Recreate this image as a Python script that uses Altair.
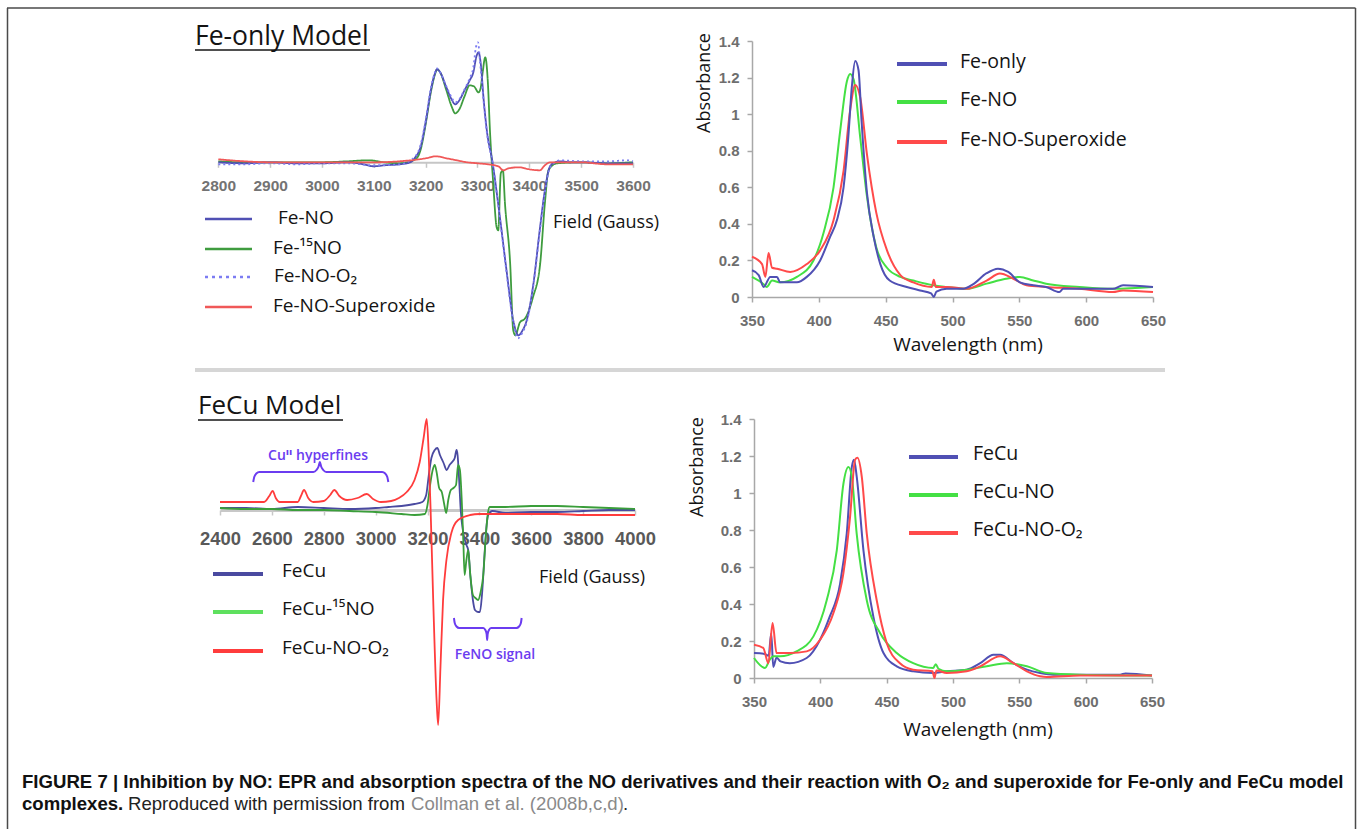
import altair as alt
import pandas as pd

W, H = 1357, 829
SANS = "'Open Sans', 'DejaVu Sans', sans-serif"
ARIAL = "'Liberation Sans', Arial, sans-serif"

# ---------------- EPR, Fe-only model (field in Gauss, arbitrary intensity) ----------------
epr1_feno_x = [2800, 2850, 2900, 2950, 3000, 3050, 3080, 3100, 3120, 3150, 3170, 3180, 3190, 3200, 3210, 3218, 3222, 3228, 3240, 3250, 3257, 3265, 3275, 3285, 3292, 3298, 3302, 3306, 3312, 3318, 3329, 3343, 3356, 3369, 3379, 3387, 3395, 3408, 3420, 3430, 3440, 3450, 3460, 3480, 3500, 3550, 3600]
epr1_feno_y = [0, -1, 0, -1, -1, 0, -2, -4, -3, -2, 0, 5, 15, 40, 72, 89, 93, 90, 75, 63, 58, 62, 72, 82, 90, 106, 110, 100, 62, 32, 0, -54, -108, -158, -173, -168, -158, -121, -68, -28, -4, 0, 1, 0, 0, -1, -1]
epr1_fe15_x = [2800, 2850, 2900, 3000, 3050, 3090, 3120, 3150, 3180, 3190, 3200, 3210, 3218, 3222, 3228, 3240, 3250, 3257, 3265, 3275, 3285, 3293, 3302, 3306, 3310, 3315, 3320, 3324, 3330, 3337, 3340, 3345, 3349, 3353, 3363, 3369, 3373, 3382, 3392, 3407, 3421, 3430, 3437, 3453, 3500, 3550, 3600]
epr1_fe15_y = [1, 0, 0, 0, 1, 2, 0, -1, 3, 12, 38, 70, 88, 93, 90, 72, 56, 49, 53, 66, 77, 76, 70, 74, 90, 105, 80, 32, -18, -65, -68, -11, -8, -41, -101, -168, -173, -160, -156, -135, -101, -41, -8, -1, 0, -1, 0]
epr1_o2_x = [2800, 2850, 2900, 2950, 3000, 3050, 3100, 3150, 3180, 3190, 3200, 3210, 3218, 3222, 3228, 3240, 3250, 3257, 3265, 3275, 3285, 3292, 3297, 3301, 3305, 3312, 3318, 3329, 3343, 3356, 3369, 3378, 3387, 3395, 3408, 3420, 3430, 3440, 3450, 3460, 3500, 3550, 3590, 3600]
epr1_o2_y = [-2, -2, -1, -2, -1, -1, -3, -2, 6, 17, 42, 74, 90, 94, 90, 76, 65, 60, 63, 73, 84, 95, 115, 120, 100, 60, 30, 0, -55, -110, -160, -176, -170, -160, -122, -70, -30, -5, 0, 2, 1, 1, 2, 1]
epr1_sup_x = [2800, 2850, 2900, 3000, 3100, 3150, 3200, 3220, 3240, 3260, 3280, 3300, 3320, 3340, 3350, 3360, 3380, 3400, 3420, 3430, 3440, 3500, 3550, 3600]
epr1_sup_y = [3, 1, 0, 0, 0, 1, 4, 6, 4, 2, 0, -1, -2, -4, -8, -6, -5, -7, -8, -3, 0, 0, -2, -2]
epr1_ticks = [2800, 2900, 3000, 3100, 3200, 3300, 3400, 3500, 3600]

# ---------------- EPR, FeCu model ----------------
epr2_fecu_x = [2400, 2500, 2600, 2700, 2800, 2900, 3000, 3050, 3100, 3150, 3180, 3195, 3205, 3215, 3228, 3238, 3248, 3262, 3274, 3285, 3295, 3305, 3312, 3316, 3322, 3328, 3338, 3350, 3357, 3365, 3375, 3383, 3395, 3402, 3410, 3421, 3428, 3434, 3450, 3500, 3600, 3700, 3800, 3900, 4000]
epr2_fecu_y = [2, 2, 1, 3, 2, 1, 2, 3, 4, 6, 8, 15, 35, 52, 60, 62, 55, 47, 40, 45, 48, 52, 60, 55, 30, 0, -23, -35, -40, -65, -90, -100, -102, -102, -85, -40, -15, -5, -1, -3, -2, -2, -1, 0, 0]
epr2_fe15_x = [2400, 2500, 2600, 2700, 2800, 2900, 3000, 3100, 3150, 3190, 3200, 3210, 3220, 3228, 3235, 3245, 3255, 3265, 3272, 3280, 3290, 3300, 3310, 3318, 3325, 3332, 3338, 3343, 3350, 3357, 3365, 3375, 3385, 3395, 3405, 3415, 3425, 3433, 3440, 3500, 3600, 3700, 3800, 3900, 4000]
epr2_fe15_y = [2, 1, 1, 0, 0, -1, -2, -4, -5, -4, 5, 25, 40, 45, 38, 22, 18, 5, -3, 10, 20, 22, 25, 45, 40, 10, -30, -65, -50, -40, -65, -85, -88, -90, -82, -65, -25, -3, 3, 3, 4, 4, 3, 2, 1]
epr2_o2_x = [2400, 2500, 2570, 2590, 2603, 2615, 2630, 2700, 2712, 2724, 2740, 2760, 2800, 2825, 2841, 2860, 2890, 2930, 2966, 2990, 3020, 3060, 3090, 3120, 3150, 3170, 3185, 3197, 3204, 3212, 3222, 3235, 3241, 3250, 3260, 3273, 3292, 3318, 3364, 3400, 3500, 3600, 3700, 3800, 3900, 4000]
epr2_o2_y = [8, 8, 8, 14, 19, 12, 8, 8, 14, 20, 12, 8, 9, 15, 20, 14, 10, 12, 16, 11, 8, 9, 12, 18, 30, 48, 72, 91, 60, 0, -90, -190, -215, -157, -90, -50, -23, -10, -5, -4, -4, -4, -4, -5, -5, -5]
epr2_ticks = [2400, 2600, 2800, 3000, 3200, 3400, 3600, 3800, 4000]
brace_cu_x = [2528, 2532, 2540, 2552, 2760, 2772, 2780, 2785, 2790, 2798, 2810, 3025, 3037, 3045, 3049]
brace_cu_y = [28, 33, 36.5, 38, 38, 40, 43.5, 48, 43.5, 40, 38, 38, 36.5, 33, 28]
brace_feno_x = [3302, 3305, 3312, 3322, 3415, 3423, 3428, 3430, 3432, 3437, 3445, 3543, 3553, 3560, 3563]
brace_feno_y = [-108, -113, -116.5, -118, -118, -120, -124, -130, -124, -120, -118, -118, -116.5, -113, -108]

# ---------------- UV-vis, Fe-only model ----------------
uv1_feonly_x = [350, 355, 358.7, 363.7, 368.7, 371, 383.6, 391, 401, 408.5, 413.5, 418.5, 422, 424.7, 427.2, 429.7, 432, 436, 441, 446, 453, 465.8, 475.7, 484, 486, 488, 495.6, 508, 515.5, 525.5, 534, 541.7, 550.4, 560.4, 570, 580, 582.8, 595, 620, 627.6, 650]
uv1_feonly_y = [0.146, 0.12, 0.055, 0.11, 0.11, 0.08, 0.08, 0.11, 0.2, 0.33, 0.42, 0.6, 0.87, 1.15, 1.29, 1.24, 0.96, 0.57, 0.33, 0.18, 0.09, 0.055, 0.036, 0.02, 0.0, 0.03, 0.045, 0.045, 0.07, 0.13, 0.155, 0.137, 0.08, 0.064, 0.055, 0.027, 0.045, 0.045, 0.045, 0.064, 0.055]
uv1_feno_x = [350, 358.7, 361, 365, 371, 383.6, 396, 403.5, 411, 416, 421, 423.4, 426, 431, 436, 443, 451, 461, 470.7, 485.7, 495.6, 510.6, 525.5, 540, 550.4, 560.4, 570, 595, 620, 650]
uv1_feno_y = [0.11, 0.07, 0.055, 0.09, 0.08, 0.11, 0.2, 0.35, 0.6, 0.91, 1.18, 1.22, 1.19, 0.87, 0.55, 0.27, 0.16, 0.11, 0.09, 0.064, 0.055, 0.045, 0.073, 0.1, 0.11, 0.09, 0.073, 0.055, 0.045, 0.055]
uv1_sup_x = [350, 357.5, 360, 362.4, 365, 368.7, 378.6, 391, 401, 411, 418.5, 423.4, 427.2, 431, 436, 443, 451, 461, 470.7, 484.5, 486, 487.5, 495.6, 510.6, 525.5, 535.5, 545.5, 555.4, 570, 595, 620, 627.6, 650]
uv1_sup_y = [0.22, 0.18, 0.11, 0.24, 0.16, 0.155, 0.137, 0.18, 0.255, 0.42, 0.69, 1.02, 1.16, 1.09, 0.78, 0.46, 0.255, 0.12, 0.08, 0.055, 0.095, 0.055, 0.055, 0.045, 0.09, 0.128, 0.1, 0.064, 0.055, 0.045, 0.027, 0.036, 0.027]

# ---------------- UV-vis, FeCu model ----------------
uv2_fecu_x = [350, 358, 361, 363, 364.5, 367, 370, 377, 389.7, 399.8, 407, 414.9, 419.9, 423.7, 425.4, 427.4, 432.5, 440, 447.6, 457.6, 470, 485, 495.3, 510.4, 520.5, 530.5, 535.5, 545.6, 555.7, 565.7, 575.8, 595.9, 626, 630, 650]
uv2_fecu_y = [0.135, 0.13, 0.12, 0.24, 0.06, 0.11, 0.09, 0.08, 0.108, 0.207, 0.33, 0.51, 0.78, 1.14, 1.18, 1.09, 0.69, 0.33, 0.135, 0.063, 0.036, 0.027, 0.036, 0.045, 0.08, 0.126, 0.126, 0.08, 0.045, 0.027, 0.018, 0.018, 0.018, 0.025, 0.013]
uv2_feno_x = [350, 358.3, 362, 364.6, 369.6, 382, 394.8, 404.8, 412.4, 417.4, 421.2, 423.7, 427.4, 435, 445, 457.6, 470, 485, 487, 489, 495.3, 510.4, 525.5, 540.6, 555.7, 570.8, 595.9, 650]
uv2_feno_y = [0.108, 0.054, 0.1, 0.117, 0.117, 0.144, 0.225, 0.42, 0.69, 1.05, 1.14, 1.09, 0.78, 0.42, 0.243, 0.135, 0.08, 0.054, 0.075, 0.05, 0.036, 0.045, 0.063, 0.08, 0.063, 0.027, 0.018, 0.013]
uv2_o2_x = [350, 357, 360.8, 364, 367, 377, 389.7, 399.8, 409.8, 417.4, 422.4, 426.2, 428, 431.2, 435, 442.5, 450, 460, 470, 484.5, 486, 487.5, 495.3, 510.4, 520.5, 535.5, 545.6, 555.7, 565.7, 570.8, 595.9, 626, 650]
uv2_o2_y = [0.18, 0.162, 0.08, 0.297, 0.135, 0.135, 0.144, 0.207, 0.35, 0.567, 0.87, 1.18, 1.19, 1.09, 0.78, 0.42, 0.19, 0.08, 0.045, 0.036, 0.0, 0.04, 0.027, 0.036, 0.063, 0.117, 0.08, 0.036, 0.009, 0.005, 0.013, 0.013, 0.013]
uv_x_ticks = [350, 400, 450, 500, 550, 600, 650]
uv_y_ticks = [0, 0.2, 0.4, 0.6, 0.8, 1, 1.2, 1.4]

# ---------------- labels ----------------
epr1_names = ["Fe-15NO", "Fe-NO", "Fe-NO-O2", "Fe-NO-Superoxide"]
epr1_labels = ["Fe-NO", "Fe-¹⁵NO", "Fe-NO-O₂", "Fe-NO-Superoxide"]
epr2_names = ["FeCu", "FeCu-15NO", "FeCu-NO-O2"]
epr2_labels = ["FeCu", "FeCu-¹⁵NO", "FeCu-NO-O₂"]
uv1_names = ["Fe-NO", "Fe-NO-Superoxide", "Fe-only"]
uv1_labels = ["Fe-only", "Fe-NO", "Fe-NO-Superoxide"]
uv2_names = ["FeCu", "FeCu-NO", "FeCu-NO-O2"]
uv2_labels = ["FeCu", "FeCu-NO", "FeCu-NO-O₂"]

BLUE, GREEN_D, GREEN_B, RED, DOT = "#5050b4", "#3f9c3f", "#44e044", "#ff4a4a", "#7c7cf2"
PURPLE = "#6b3cf0"

DUMMY = pd.DataFrame({"k": [0]})


def long_df(series):
    return pd.concat([pd.DataFrame({"x": xs, "y": ys, "series": n}) for n, xs, ys in series],
                     ignore_index=True)


def txt(s, x, y, size, font=SANS, weight="normal", color="#141414", align="left",
        baseline="middle", angle=None):
    kw = dict(text=s, fontSize=size, font=font, fontWeight=weight, color=color,
              align=align, baseline=baseline)
    if angle is not None:
        kw["angle"] = angle
    return alt.Chart(DUMMY).mark_text(**kw).encode(x=alt.value(x), y=alt.value(y))


def seg(x1, y1, x2, y2, color, width, dash=None):
    kw = dict(color=color, strokeWidth=width)
    if dash:
        kw["strokeDash"] = dash
    return alt.Chart(DUMMY).mark_rule(**kw).encode(
        x=alt.value(x1), y=alt.value(y1), x2=alt.value(x2), y2=alt.value(y2))


def sc(dom, rng):
    return alt.Scale(domain=dom, range=rng, zero=False, nice=False)


def lines(df, names, colors, xs, ys, xaxis, yaxis, dashes=None, sw=2.0):
    enc = dict(
        x=alt.X("x:Q", scale=xs, axis=xaxis, title=None),
        y=alt.Y("y:Q", scale=ys, axis=yaxis, title=None),
        color=alt.Color("series:N", scale=alt.Scale(domain=names, range=colors), legend=None),
    )
    if dashes:
        enc["strokeDash"] = alt.StrokeDash("series:N", scale=alt.Scale(domain=names, range=dashes),
                                           legend=None)
    return alt.Chart(df).mark_line(strokeWidth=sw, interpolate="monotone").encode(**enc)


def xaxis(values, y0, size, color, pad, dcol, dw, fmt="d"):
    return alt.Axis(orient="bottom", offset=y0 - H, values=values, grid=False, format=fmt,
                    domainColor=dcol, domainWidth=dw, tickColor=dcol, tickSize=5, tickWidth=1.5,
                    labelFont=ARIAL, labelFontSize=size, labelColor=color, labelFontWeight="bold",
                    labelPadding=pad, labelFlush=False, labelOverlap=False)


def yaxis(values, x0):
    return alt.Axis(orient="left", offset=-x0, values=values, grid=False, format="~g",
                    domainColor="#a8a8a8", domainWidth=1.5, tickColor="#a8a8a8", tickSize=5,
                    tickWidth=1.5, labelFont=ARIAL, labelFontSize=15, labelColor="#6e6e6e",
                    labelFontWeight="bold", labelPadding=8, labelOverlap=False)


def brace(xs_, ys_, xs, ys):
    return alt.Chart(pd.DataFrame({"x": xs_, "y": ys_})).mark_line(
        color=PURPLE, strokeWidth=2, interpolate="monotone").encode(
        x=alt.X("x:Q", scale=xs, axis=None), y=alt.Y("y:Q", scale=ys, axis=None))


layers = []

# frame, separator
layers += [seg(7.5, 8, 7.5, 829, "#4a4a4a", 1.5), seg(7, 8, 1355.5, 8, "#4a4a4a", 1.5),
           seg(1355.5, 8, 1355.5, 829, "#4a4a4a", 1.5), seg(195, 370, 1165, 370, "#d6d6d6", 4)]

# ---- panel 1: EPR Fe-only ----
df1 = long_df([("Fe-15NO", epr1_fe15_x, epr1_fe15_y), ("Fe-NO", epr1_feno_x, epr1_feno_y),
               ("Fe-NO-O2", epr1_o2_x, epr1_o2_y), ("Fe-NO-Superoxide", epr1_sup_x, epr1_sup_y)])
x1 = sc([2800, 3600], [218.3, 633])
y1 = sc([-200, 140], [362.3, 22.3])
layers.append(lines(df1, epr1_names, [GREEN_D, BLUE, DOT, "#f05858"], x1, y1,
                    xaxis(epr1_ticks, 162.3, 15.5, "#737373", 11, "#c6c6c6", 2), None,
                    dashes=[[1, 0], [1, 0], [2, 3], [1, 0]], sw=1.8))

# ---- panel 2: UV Fe-only ----
df2 = long_df([("Fe-NO", uv1_feno_x, uv1_feno_y), ("Fe-NO-Superoxide", uv1_sup_x, uv1_sup_y),
               ("Fe-only", uv1_feonly_x, uv1_feonly_y)])
x2 = sc([350, 650], [752, 1153])
y2 = sc([0, 1.4], [297, 41])
layers.append(lines(df2, uv1_names, [GREEN_B, RED, BLUE], x2, y2,
                    xaxis(uv_x_ticks, 297, 15, "#6e6e6e", 11, "#a8a8a8", 1.5), yaxis(uv_y_ticks, 752)))

# ---- panel 3: EPR FeCu ----
df3 = long_df([("FeCu", epr2_fecu_x, epr2_fecu_y), ("FeCu-15NO", epr2_fe15_x, epr2_fe15_y),
               ("FeCu-NO-O2", epr2_o2_x, epr2_o2_y)])
x3 = sc([2400, 4000], [220, 635])
y3 = sc([-230, 110], [740, 400])
layers.append(lines(df3, epr2_names, ["#4a4aa0", "#3a9e3a", "#ff3c3c"], x3, y3,
                    xaxis(epr2_ticks, 510, 18.4, "#595959", 14, "#c8c8c8", 3), None, sw=1.8))
layers.append(brace(brace_cu_x, brace_cu_y, x3, y3))
layers.append(brace(brace_feno_x, brace_feno_y, x3, y3))

# ---- panel 4: UV FeCu ----
df4 = long_df([("FeCu", uv2_fecu_x, uv2_fecu_y), ("FeCu-NO", uv2_feno_x, uv2_feno_y),
               ("FeCu-NO-O2", uv2_o2_x, uv2_o2_y)])
x4 = sc([350, 650], [754, 1152])
y4 = sc([0, 1.4], [678, 419])
layers.append(lines(df4, uv2_names, [BLUE, GREEN_B, RED], x4, y4,
                    xaxis(uv_x_ticks, 678, 15, "#6e6e6e", 11, "#a8a8a8", 1.5), yaxis(uv_y_ticks, 754)))

# ---- titles ----
layers += [txt("Fe-only Model", 195, 37, 26.5), seg(195, 50, 370, 50, "#141414", 1.5),
           txt("FeCu Model", 198, 406, 26), seg(198, 420, 343, 420, "#141414", 1.5)]

# ---- axis titles ----
layers += [txt("Field (Gauss)", 553, 223, 18), txt("Field (Gauss)", 539, 578, 18),
           txt("Absorbance", 705, 83, 18, align="center", angle=270),
           txt("Absorbance", 698, 467, 18, align="center", angle=270),
           txt("Wavelength (nm)", 968, 345, 19, align="center"),
           txt("Wavelength (nm)", 978, 730, 19, align="center")]

# ---- annotations ----
layers += [txt("Cuᴵᴵ hyperfines", 318, 456, 14, weight=600, color=PURPLE, align="center"),
           txt("FeNO signal", 495, 655, 14, weight=600, color=PURPLE, align="center")]

# ---- legends ----
leg1 = [(BLUE, None, 278), (GREEN_D, None, 273), (DOT, [3, 4], 274), ("#f05858", None, 273)]
for (col, dash, lx), lab, yy in zip(leg1, epr1_labels, [219, 249, 277, 307]):
    layers += [seg(205, yy, 252, yy, col, 2.5, dash), txt(lab, lx, yy - 1, 19)]
leg2 = [BLUE, GREEN_B, RED]
for col, lab, yy in zip(leg2, uv1_labels, [64, 102, 142]):
    layers += [seg(897, yy, 947, yy, col, 4), txt(lab, 960, yy - 2, 19.5)]
leg3 = ["#4a4aa0", "#5ee05e", "#ff3c3c"]
for col, lab, yy in zip(leg3, epr2_labels, [574, 612, 651]):
    layers += [seg(213, yy, 263, yy, col, 4), txt(lab, 282, yy - 3, 19)]
leg4 = [BLUE, GREEN_B, RED]
for col, lab, yy in zip(leg4, uv2_labels, [457, 495, 533]):
    layers += [seg(909, yy, 958, yy, col, 4), txt(lab, 973, yy - 3, 19.5)]

# ---- caption ----
cap1 = ("FIGURE 7 | Inhibition by NO: EPR and absorption spectra of the NO derivatives and their "
        "reaction with O₂ and superoxide for Fe-only and FeCu model")
CS = 18.6
layers += [txt(cap1, 22, 787.5, CS, font=ARIAL, weight="bold", color="#111111", baseline="alphabetic"),
           txt("complexes.", 22, 810, CS, font=ARIAL, weight="bold", color="#111111", baseline="alphabetic"),
           txt("Reproduced with permission from", 128, 810, CS, font=ARIAL, color="#222222",
               baseline="alphabetic"),
           txt("Collman et al. (2008b,c,d)", 411, 810, CS, font=ARIAL, color="#8a8a8a",
               baseline="alphabetic"),
           txt(".", 623, 810, CS, font=ARIAL, color="#222222", baseline="alphabetic")]

chart = alt.layer(*layers).resolve_scale(
    x="independent", y="independent", color="independent", strokeDash="independent"
).properties(
    width=W, height=H, padding=0, autosize=alt.AutoSizeParams(type="none")
).configure_view(stroke="transparent")

chart.save("out.html", embed_options={"renderer": "svg", "actions": False})
